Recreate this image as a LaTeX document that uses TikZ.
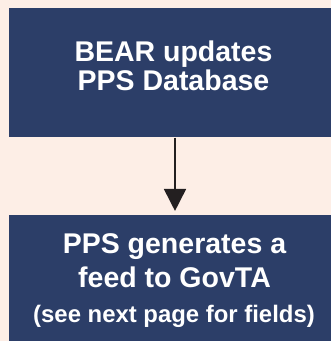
\documentclass[tikz,border=0pt]{standalone}
\usepackage{fontspec}
\setmainfont{Liberation Sans}
\usetikzlibrary{arrows.meta}
\definecolor{bgpeach}{RGB}{253,238,230}
\definecolor{navy}{RGB}{44,62,104}
\definecolor{arrowblack}{RGB}{35,31,32}
\tikzset{
  box/.style={fill=navy, draw=none, inner sep=0pt, anchor=south west},
  bigtxt/.style={text=white, font=\bfseries\fontsize{28.5}{29}\selectfont, anchor=base, inner sep=0pt},
  smalltxt/.style={text=white, font=\bfseries\fontsize{23.9}{26}\selectfont, anchor=base, inner sep=0pt},
  flow/.style={draw=arrowblack, line width=2.5pt, -{Triangle[length=22pt,width=21.7pt]}}
}
\begin{document}
\begin{tikzpicture}[x=1pt,y=1pt]
\useasboundingbox (0,0) rectangle (331,341);
\fill[bgpeach] (0,0) rectangle (331,341);
\node[box, minimum width=322pt, minimum height=129.7pt] (top) at (9,203.3) {};
\node[box, minimum width=322pt, minimum height=126pt] (bot) at (9,0) {};
\node[bigtxt] (t1) at (173.5,279.3) {BEAR updates};
\node[bigtxt] (t2) at (173.5,250.3) {PPS Database};
\node[bigtxt] (b1) at (174.5,87.7) {PPS generates a};
\node[bigtxt] (b2) at (174.5,53) {feed to GovTA};
\node[smalltxt] (b3) at (174,19) {(see next page for fields)};
\coordinate (as) at (175,203.3);
\coordinate (ae) at (175,126);
\draw[flow, shorten >=4pt] (as) -- (ae);
\end{tikzpicture}
\end{document}
